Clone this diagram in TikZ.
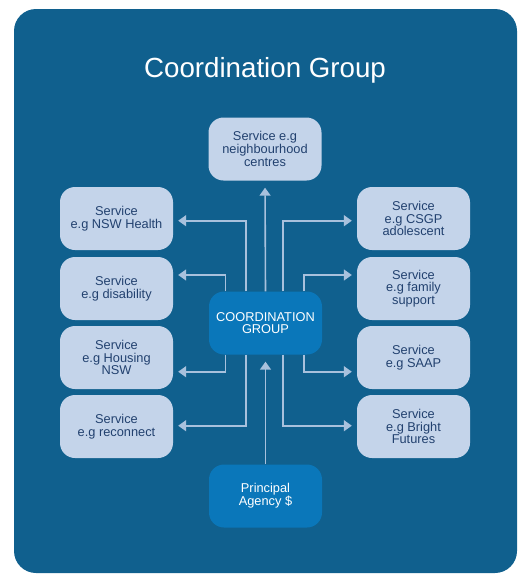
\documentclass[tikz,border=0pt]{standalone}
\usepackage{fontspec}
\setmainfont{Liberation Sans}
\usetikzlibrary{arrows.meta}
\definecolor{bgblue}{HTML}{10608E}
\definecolor{lightbox}{HTML}{C4D4EA}
\definecolor{hubblue}{HTML}{0A77BA}
\definecolor{navytext}{HTML}{22416F}
\definecolor{linkblue}{HTML}{A8C1DD}
\begin{document}
\begin{tikzpicture}[x=1pt, y=-1pt,
  box/.style={rounded corners=15pt, minimum width=113pt, minimum height=63pt, inner sep=0pt, align=center, font=\fontsize{12.8}{12.7}\selectfont},
  svc/.style={box, fill=lightbox, text=navytext},
  hub/.style={box, fill=hubblue, text=white},
  link/.style={draw=linkblue, line width=1.6pt, -{Triangle[length=8pt,width=11pt]}, shorten >=5pt}]
\useasboundingbox (0,0) rectangle (522,574);
\fill[bgblue, rounded corners=22pt] (14,9) rectangle (517,573);
\node[text=white, font=\fontsize{27.7}{27.7}\selectfont, anchor=base] (title) at (265,77) {Coordination Group};
% service boxes
\node[svc] (nbh) at (265,149) {Service e.g\\neighbourhood\\centres};
\node[svc] (health) at (116.5,218.5) {Service\\e.g NSW Health};
\node[svc] (disab) at (116.5,288.5) {Service\\e.g disability};
\node[svc] (housing) at (116.5,357.5) {Service\\e.g Housing\\NSW};
\node[svc] (reconn) at (116.5,426.5) {Service\\e.g reconnect};
\node[svc] (csgp) at (413.5,218.5) {Service\\e.g CSGP\\adolescent};
\node[svc] (family) at (413.5,288.5) {Service\\e.g family\\support};
\node[svc] (saap) at (413.5,357.5) {Service\\e.g SAAP};
\node[svc] (bright) at (413.5,426.5) {Service\\e.g Bright\\Futures};
% hub and agency
\node[hub] (coord) at (265.5,323) {COORDINATION\\GROUP};
\node[hub] (agency) at (265.5,496) {Principal\\Agency \$};
% links
\draw[link, shorten >=7pt] (coord.north) -- (nbh.south);
\draw[link] ([xshift=-19.5pt]coord.north) |- ([yshift=-2.2pt]health.east);
\draw[link] ([xshift=-40pt]coord.north) |- ([yshift=13.5pt]disab.east);
\draw[link] ([xshift=-40pt]coord.south) |- ([yshift=-14.2pt]housing.east);
\draw[link] ([xshift=-19.5pt]coord.south) |- ([yshift=0.8pt]reconn.east);
\draw[link] ([xshift=17.5pt]coord.north) |- ([yshift=-2.2pt]csgp.west);
\draw[link] ([xshift=38.5pt]coord.north) |- ([yshift=13.5pt]family.west);
\draw[link] ([xshift=38.5pt]coord.south) |- ([yshift=-14.2pt]saap.west);
\draw[link] ([xshift=17.5pt]coord.south) |- ([yshift=0.8pt]bright.west);
\draw[link, shorten >=7pt] (agency.north) -- (coord.south);
\end{tikzpicture}
\end{document}
